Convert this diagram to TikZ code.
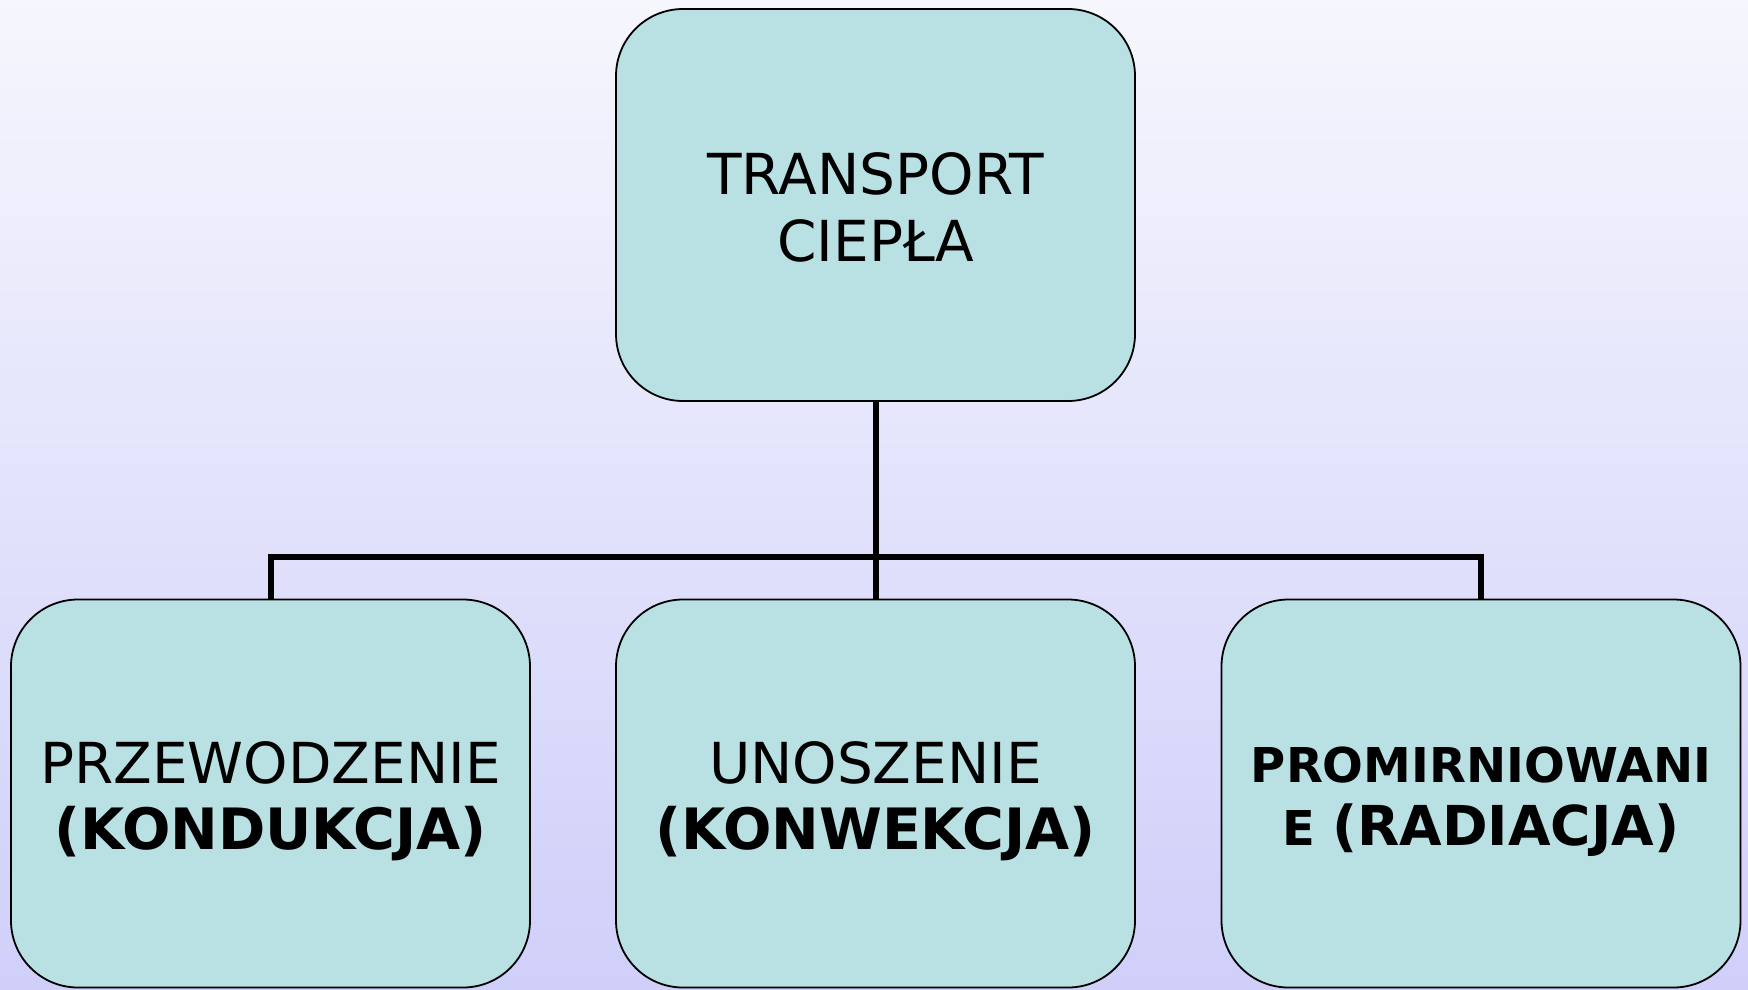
\documentclass[tikz,border=0pt]{standalone}
\usepackage{fontspec}
\setmainfont{DejaVu Sans}
\definecolor{bgtop}{RGB}{246,246,253}
\definecolor{bgbot}{RGB}{207,207,250}
\definecolor{boxfill}{RGB}{185,224,226}
\tikzset{
  topicbox/.style={draw=black, line width=1.8pt, fill=boxfill, rounded corners=67pt,
    minimum width=519pt, inner sep=0pt},
  bigtext/.style={anchor=base, inner sep=0pt, font=\fontsize{56.5}{67}\selectfont},
  boldtext/.style={anchor=base, inner sep=0pt, font=\fontsize{57}{67}\selectfont\bfseries},
  smalltext/.style={anchor=base, inner sep=0pt, font=\fontsize{48}{62}\selectfont\bfseries},
  conn/.style={draw=black, line width=6pt}
}
\begin{document}
\begin{tikzpicture}[x=1pt,y=-1pt]
\useasboundingbox (0,0) rectangle (1748,989);
\shade[top color=bgtop, bottom color=bgbot] (0,0) rectangle (1748,989);
% boxes
\node[topicbox, minimum height=392pt] (top) at (875.5,205) {};
\node[topicbox, minimum height=388pt] (left) at (270.5,793.5) {};
\node[topicbox, minimum height=388pt] (mid) at (875.5,793.5) {};
\node[topicbox, minimum height=388pt] (right) at (1481,793.5) {};
% texts
\node[bigtext] (topa) at (875.5,194) {TRANSPORT};
\node[bigtext] (topb) at (875.5,261) {CIEPŁA};
\node[bigtext] (lefta) at (270.5,783) {PRZEWODZENIE};
\node[boldtext] (leftb) at (270.5,849) {(KONDUKCJA)};
\node[bigtext] (mida) at (875.5,783) {UNOSZENIE};
\node[boldtext] (midb) at (875.5,849) {(KONWEKCJA)};
\node[smalltext] (righta) at (1481,782) {PROMIRNIOWANI};
\node[smalltext] (rightb) at (1481,845) {E {\fontsize{55}{62}\selectfont(RADIACJA)}};
% connectors
\coordinate (j) at (875.5,557);
\draw[conn] (top.south) -- (mid.north);
\draw[conn] (left.north) -- (left.north |- j) -- (right.north |- j) -- (right.north);
\end{tikzpicture}
\end{document}
